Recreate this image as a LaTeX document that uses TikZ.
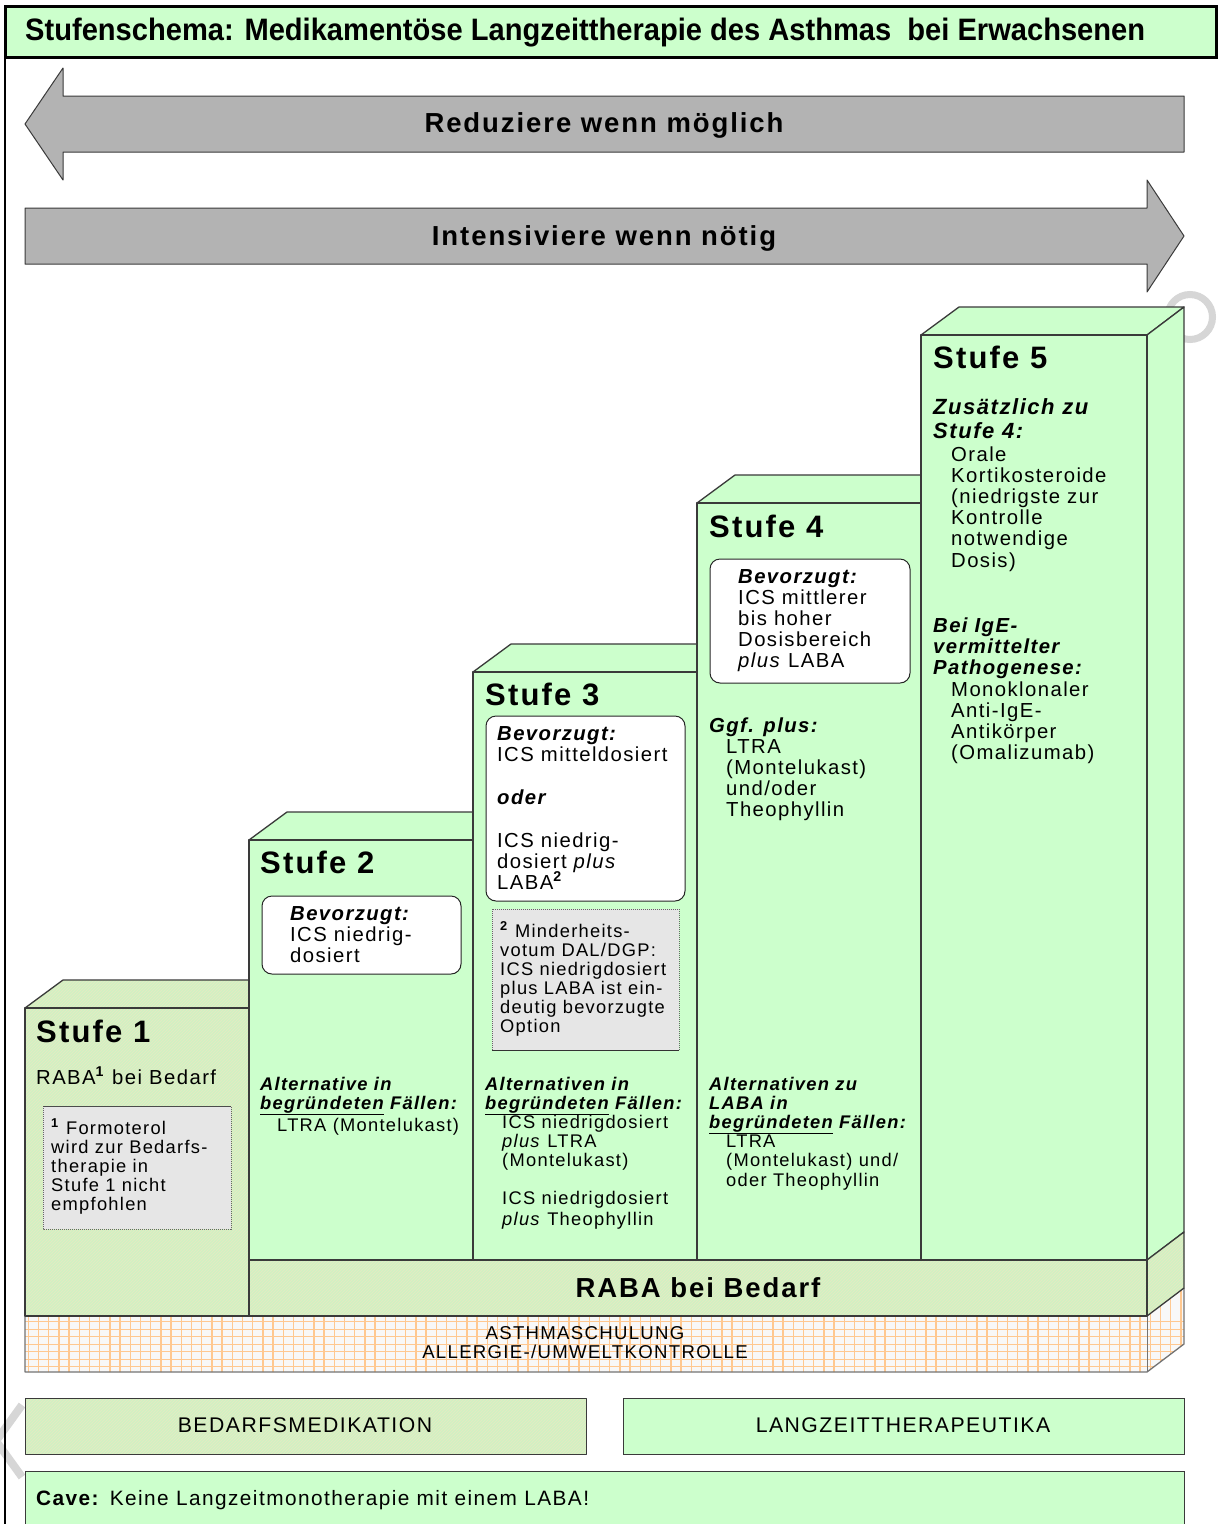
\documentclass[tikz,border=0pt]{standalone}
\usepackage{fontspec}
\usepackage{graphicx}
\setmainfont{Liberation Sans}[LetterSpace=7]
\newfontfamily\titlefont{Liberation Sans}
\usetikzlibrary{patterns}
\definecolor{lg}{HTML}{CCFFCC}
\definecolor{hg}{HTML}{CCF4C4}
\definecolor{hl}{HTML}{E4E9C2}
\definecolor{edge}{HTML}{3A3A3A}
\definecolor{arrowgray}{HTML}{B3B3B3}
\definecolor{fnbg}{HTML}{E6E6E6}
\definecolor{gridbg}{HTML}{F8F8F8}
\definecolor{gridln}{HTML}{FFC890}
\definecolor{wm}{HTML}{D6D6D6}
\pgfdeclarepatternformonly{myhatch}{\pgfqpoint{-1pt}{-1pt}}{\pgfqpoint{4pt}{4pt}}{\pgfqpoint{3pt}{3pt}}{%
  \pgfsetlinewidth{0.8pt}\pgfpathmoveto{\pgfqpoint{0pt}{0pt}}\pgfpathlineto{\pgfqpoint{3.1pt}{3.1pt}}\pgfusepath{stroke}}
\newcommand\mylines[6]{\foreach \ln [count=\i from 0] in {#6} {\node[#1] (#2\i) at ({#3},{#4+\i*#5}) {\ln};}}
\begin{document}
\begin{tikzpicture}[x=1pt,y=-1pt,
  stair/.style={draw=edge, line width=1.3pt, line join=round},
  greenf/.style={stair, fill=lg},
  hatchf/.style={stair, preaction={fill=hg}, pattern=myhatch, pattern color=hl},
  arrowst/.style={fill=arrowgray, draw=edge, line width=1pt, line join=round},
  txt/.style={inner sep=0pt, anchor=base west, font=\fontsize{20.3}{22}\selectfont},
  sm/.style={inner sep=0pt, anchor=base west, font=\fontsize{18.3}{20}\selectfont},
  smb/.style={inner sep=0pt, anchor=base west, font=\fontsize{18.3}{20}\selectfont\bfseries\itshape},
  txb/.style={inner sep=0pt, anchor=base west, font=\fontsize{20.3}{22}\selectfont\bfseries\itshape},
  head/.style={inner sep=0pt, anchor=base west, font=\fontsize{31}{34}\selectfont\bfseries},
  wbox/.style={draw=black!85, line width=1pt, fill=white, rounded corners=10pt},
  fnbox/.style={draw=black!60, densely dotted, line width=1pt, fill=fnbg},
  lbl/.style={inner sep=0pt, anchor=base, font=\fontsize{21.2}{23}\selectfont}
]
\useasboundingbox (0,0) rectangle (1218,1524);
\fill[white] (0,0) rectangle (1218,1524);

% watermark remnants
\draw[wm, line width=7pt] (1190,317) circle (22.5);
\draw[wm, line width=8pt, line join=miter] (22,1405) -- (-4,1441) -- (22,1477);

% frame and title
\draw[black, line width=2.5pt] (5,57) -- (5,1530);
\draw[black, line width=3pt, fill=lg] (5,6) rectangle (1216,57);
\node[inner sep=0pt, anchor=base west, font=\titlefont\bfseries\fontsize{31}{33}\selectfont] (title) at (25,40)
  {\resizebox{1120pt}{\height}{Stufenschema: Medikament\"ose Langzeittherapie des Asthmas\ \ bei Erwachsenen}};

% arrows
\draw[arrowst] (63,96) -- (1184,96) -- (1184,152) -- (63,152) -- (63,180) -- (25,124) -- (63,68) -- cycle;
\draw[arrowst] (25,208) -- (1147,208) -- (1147,180) -- (1184,236) -- (1147,292) -- (1147,264) -- (25,264) -- cycle;
\node[inner sep=0pt, anchor=base, font=\fontsize{27.5}{30}\selectfont\bfseries] (reduz) at (604,132) {Reduziere wenn m\"oglich};
\node[inner sep=0pt, anchor=base, font=\fontsize{27.5}{30}\selectfont\bfseries] (intens) at (604,245) {Intensiviere wenn n\"otig};

% grid band
\begin{scope}
  \clip (25,1316) -- (1147,1316) -- (1184,1288) -- (1184,1344) -- (1147,1372) -- (25,1372) -- cycle;
  \fill[gridbg] (20,1280) rectangle (1190,1380);
  \foreach \x in {28.3,38.5,...,1190} \draw[gridln, line width=1.3pt] (\x,1280) -- (\x,1380);
  \foreach \y in {1321.7,1329.2,...,1376} \draw[gridln, line width=1.3pt] (20,\y) -- (1190,\y);
\end{scope}
\draw[draw=black!55, line width=1.3pt, line join=round] (25,1316) -- (25,1372) -- (1147,1372) -- (1184,1344) -- (1184,1288);
\draw[draw=black!55, line width=1pt] (1147,1316) -- (1147,1372);

% Stufe 1
\draw[hatchf] (25,1008) -- (63,980) -- (249,980) -- (249,1008) -- cycle;
\draw[hatchf] (25,1008) rectangle (249,1316);
% Stufe 2
\draw[greenf] (249,840) -- (287,812) -- (473,812) -- (473,840) -- cycle;
\draw[greenf] (249,840) rectangle (473,1260);
% Stufe 3
\draw[greenf] (473,672) -- (511,644) -- (697,644) -- (697,672) -- cycle;
\draw[greenf] (473,672) rectangle (697,1260);
% Stufe 4
\draw[greenf] (697,503) -- (735,475) -- (921,475) -- (921,503) -- cycle;
\draw[greenf] (697,503) rectangle (921,1260);
% Stufe 5
\draw[greenf] (921,335) -- (959,307) -- (1184,307) -- (1147,335) -- cycle;
\draw[greenf] (1147,335) -- (1184,307) -- (1184,1232) -- (1147,1260) -- cycle;
\draw[greenf] (921,335) rectangle (1147,1260);
% RABA bar
\draw[hatchf] (1147,1260) -- (1184,1232) -- (1184,1288) -- (1147,1316) -- cycle;
\draw[hatchf] (249,1260) rectangle (1147,1316);
\draw[edge, line width=2pt] (249,1008) -- (249,1316);

% inner boxes
\draw[fnbox] (43,1106) rectangle (231,1229);
\draw[black!70, line width=1pt] (43,1106) -- (231,1106);
\draw[wbox] (262,896) rectangle (461,974);
\draw[wbox] (486,716) rectangle (685,901);
\draw[fnbox] (492,909) rectangle (679,1050);
\draw[black!80, line width=1pt] (492,1050) -- (679,1050);
\draw[wbox] (710,559) rectangle (910,683);

% headings
\node[head] (h1) at (36,1042) {Stufe 1};
\node[head] (h2) at (260,873) {Stufe 2};
\node[head] (h3) at (485,705) {Stufe 3};
\node[head] (h4) at (709,537) {Stufe 4};
\node[head] (h5) at (933,368) {Stufe 5};

% Stufe 1 texts
\node[txt] (s1raba) at (36,1084) {RABA\textsuperscript{\textbf{1}} bei Bedarf};
\mylines{sm}{fna}{51}{1134}{19}{{\textsuperscript{\textbf{1}} Formoterol},{wird zur Bedarfs-},{therapie in},{Stufe 1 nicht},{empfohlen}}

% Stufe 2 texts
\node[txb] (s2b) at (290,920) {Bevorzugt:};
\mylines{txt}{s2p}{290}{941}{21}{{ICS niedrig-},{dosiert}}
\node[smb] (s2a0) at (260,1090) {Alternative in};
\node[smb] (s2a1) at (260,1109) {\underline{begr\"undeten} F\"allen:};
\node[sm] (s2a2) at (277,1131) {LTRA (Montelukast)};

% Stufe 3 texts
\node[txb] (s3b) at (497,740) {Bevorzugt:};
\node[txt] (s3p0) at (497,761) {ICS mitteldosiert};
\node[txb] (s3oder) at (497,804) {oder};
\mylines{txt}{s3q}{497}{847}{21}{{ICS niedrig-},{dosiert \textit{plus}},{LABA\textsuperscript{\textbf{2}}}}
\mylines{sm}{fnb}{500}{937}{19}{{\textsuperscript{\textbf{2}} Minderheits-},{votum DAL/DGP:},{ICS niedrigdosiert},{plus LABA ist ein-},{deutig bevorzugte},{Option}}
\node[smb] (s3a0) at (485,1090) {Alternativen in};
\node[smb] (s3a1) at (485,1109) {\underline{begr\"undeten} F\"allen:};
\mylines{sm}{s3c}{502}{1128}{19}{{ICS niedrigdosiert},{\textit{plus} LTRA},{(Montelukast)}}
\mylines{sm}{s3d}{502}{1204}{21}{{ICS niedrigdosiert},{\textit{plus} Theophyllin}}

% Stufe 4 texts
\node[txb] (s4b) at (738,583) {Bevorzugt:};
\mylines{txt}{s4p}{738}{604}{21.3}{{ICS mittlerer},{bis hoher},{Dosisbereich},{\textit{plus} LABA}}
\node[txb] (s4g) at (709,732) {Ggf. plus:};
\mylines{txt}{s4q}{726}{753}{21.3}{{LTRA},{(Montelukast)},{und/oder},{Theophyllin}}
\node[smb] (s4a0) at (709,1090) {Alternativen zu};
\node[smb] (s4a1) at (709,1109) {LABA in};
\node[smb] (s4a2) at (709,1128) {\underline{begr\"undeten} F\"allen:};
\mylines{sm}{s4c}{726}{1147}{19.5}{{LTRA},{(Montelukast) und/},{oder Theophyllin}}

% Stufe 5 texts
\node[inner sep=0pt, anchor=base west, font=\fontsize{22}{24}\selectfont\bfseries\itshape] (s5z0) at (933,414) {Zus\"atzlich zu};
\node[inner sep=0pt, anchor=base west, font=\fontsize{22}{24}\selectfont\bfseries\itshape] (s5z1) at (933,438) {Stufe 4:};
\mylines{txt}{s5o}{951}{461}{21.2}{{Orale},{Kortikosteroide},{(niedrigste zur},{Kontrolle},{notwendige},{Dosis)}}
\mylines{txb}{s5i}{933}{632}{21}{{Bei IgE-},{vermittelter},{Pathogenese:}}
\mylines{txt}{s5m}{951}{696}{21.3}{{Monoklonaler},{Anti-IgE-},{Antik\"orper},{(Omalizumab)}}

% RABA bar text
\node[inner sep=0pt, anchor=base, font=\fontsize{27.5}{30}\selectfont\bfseries] (raba) at (698,1297) {RABA bei Bedarf};
\node[inner sep=0pt, anchor=base, font=\fontsize{18.6}{20}\selectfont] (schul) at (585,1339) {ASTHMASCHULUNG};
\node[inner sep=0pt, anchor=base, font=\fontsize{18.6}{20}\selectfont] (allerg) at (585,1358) {ALLERGIE-/UMWELTKONTROLLE};

% footer boxes
\draw[hatchf, draw=edge, line width=1pt] (25,1398) rectangle (586,1454);
\draw[fill=lg, draw=edge, line width=1pt] (623,1398) rectangle (1184,1454);
\draw[fill=lg, draw=edge, line width=1pt] (25,1530) -- (25,1471) -- (1184,1471) -- (1184,1530);
\node[lbl] (bedarf) at (305,1432) {BEDARFSMEDIKATION};
\node[lbl] (langz) at (903,1432) {LANGZEITTHERAPEUTIKA};
\node[inner sep=0pt, anchor=base west, font=\fontsize{20.8}{22}\selectfont] (cave) at (36,1505) {\textbf{Cave:} Keine Langzeitmonotherapie mit einem LABA!};
\end{tikzpicture}
\end{document}
